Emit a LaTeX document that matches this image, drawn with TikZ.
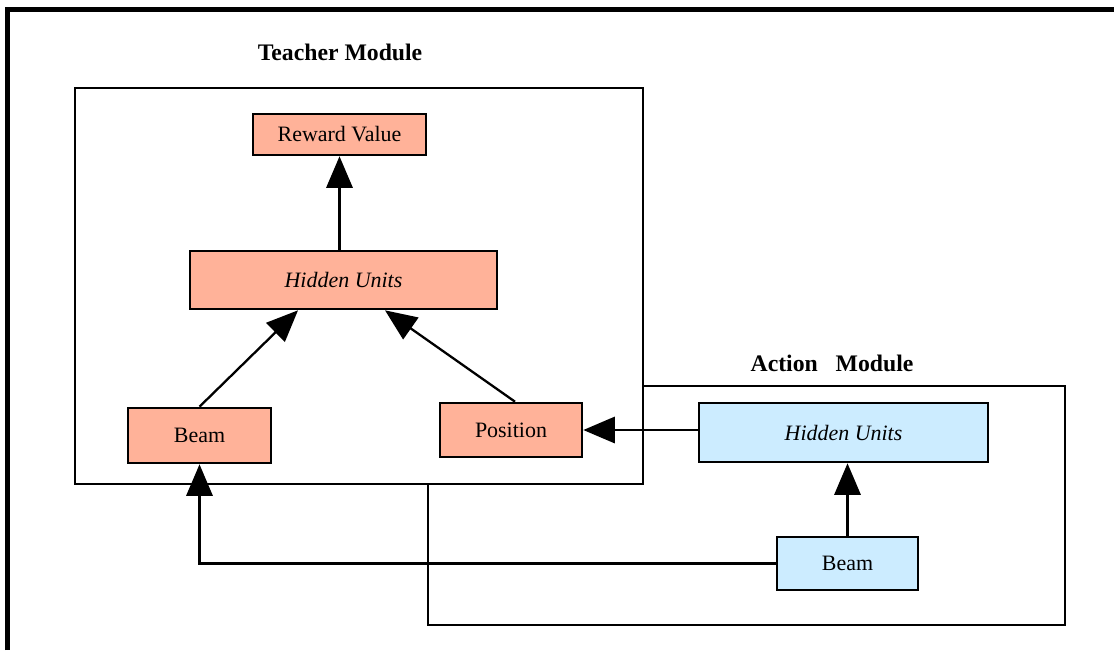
\documentclass[tikz,border=0pt]{standalone}
\usepackage{fontspec}
\setmainfont{Liberation Serif}
\usetikzlibrary{arrows.meta}
\definecolor{salmon}{RGB}{255,178,153}
\definecolor{skyblue}{RGB}{204,236,255}
\tikzset{
	unit/.style={draw, line width=1.5pt, inner sep=0pt, font=\fontsize{12.5}{14}\selectfont},
	teacher/.style={unit, fill=salmon},
	action/.style={unit, fill=skyblue},
	link/.style={line width=1.3pt, -{Triangle[length=18pt, width=15pt]}},
	modname/.style={font=\fontsize{13.5}{16}\selectfont\bfseries}
}
\begin{document}
\begin{tikzpicture}[x=0.02cm, y=-0.02cm]
			%%%%% START %%%%%
			\useasboundingbox (0, 0) rectangle (1114, 650);
			
			\draw[line width=2.8pt] (7.5, 650) -- (7.5, 9.5) -- (1114, 9.5);
			
			% modules
			\draw[line width=1.2pt] (428, 386) rectangle (1065, 625);
			\draw[line width=1.2pt, fill=white] (75, 88) rectangle (643, 484);
			\node[modname] (tname) at (340, 52) {Teacher Module};
			\node[modname] (aname) at (832, 363) {Action\hspace{0.75em}Module};
			
			% teacher units
			\node[teacher, minimum width=3.46cm, minimum height=0.82cm] (reward) at (339.5, 134.5) {Reward Value};
			\node[teacher, minimum width=6.14cm, minimum height=1.16cm] (thidden) at (343.5, 280) {\itshape Hidden Units};
			\node[teacher, minimum width=2.86cm, minimum height=1.1cm] (tbeam) at (199.5, 435.5) {Beam};
			\node[teacher, minimum width=2.84cm, minimum height=1.08cm] (position) at (511, 430) {Position};
			
			% action units
			\node[action, minimum width=5.78cm, minimum height=1.18cm] (ahidden) at (843.5, 432.5) {\itshape Hidden Units};
			\node[action, minimum width=2.82cm, minimum height=1.06cm] (abeam) at (847.5, 563.5) {Beam};
			
			\draw[link] (reward.south |- thidden.north) -- (reward.south);
			\draw[link] (tbeam.north) -- ([xshift=-0.91cm]thidden.south);
			\draw[link] ([xshift=0.08cm]position.north) -- ([xshift=0.83cm]thidden.south);
			\draw[link] (ahidden.west |- position.east) -- (position.east);
			\draw[link] (abeam.north) -- (abeam.north |- ahidden.south);
			\draw[link] (abeam.west) -| (tbeam.south);
			%%%%% END %%%%%
\end{tikzpicture}
\end{document}
